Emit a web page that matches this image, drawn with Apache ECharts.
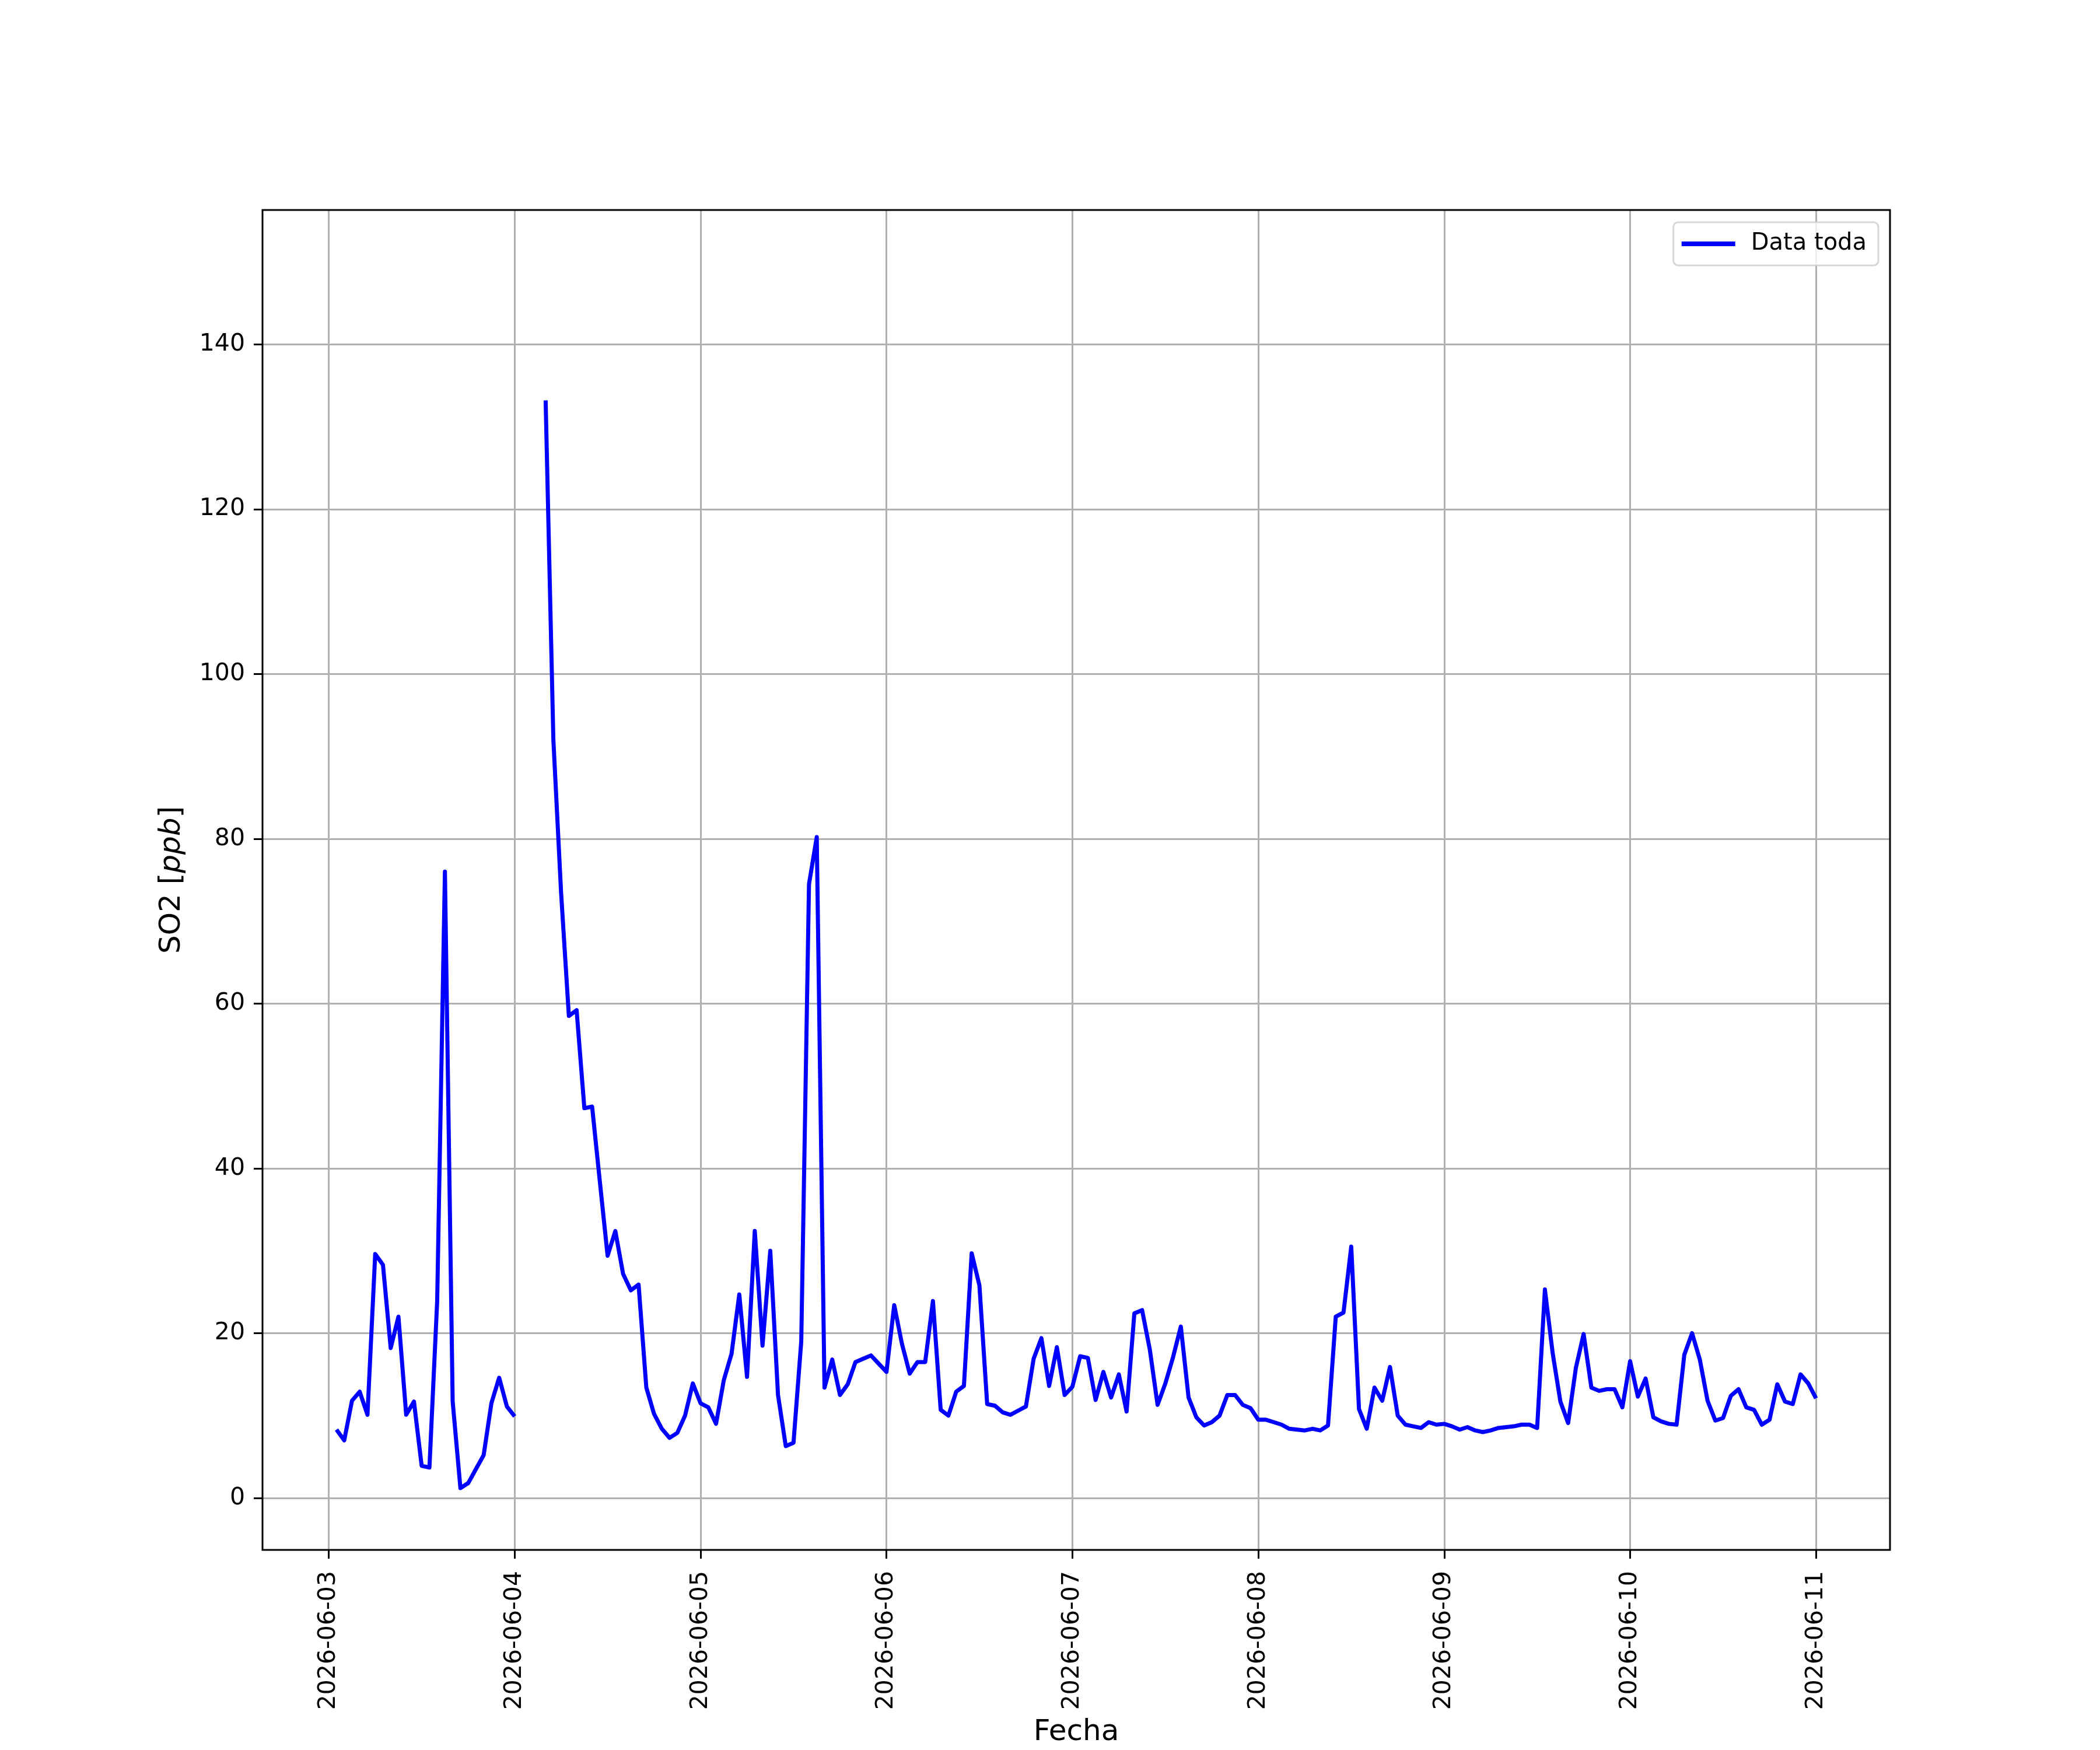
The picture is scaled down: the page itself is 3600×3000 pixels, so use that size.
<!DOCTYPE html>
<html>
<head>
<meta charset="utf-8">
<script src="https://cdn.jsdelivr.net/npm/echarts@6/dist/echarts.min.js"></script>
<style>
html,body{margin:0;padding:0;background:#fff;}
#chart{width:3600px;height:3000px;}
</style>
</head>
<body>
<div id="chart"></div>
<script>
// Hourly SO2 values, each day from 01:00 to next day 00:00
const startTime = '2026-06-03T01:00:00Z';
const stepHours = 1;
const day0603 = [8.3, 7.0, 11.8, 12.9, 10.1, 29.6, 28.3, 18.2, 22.0, 10.1, 11.7, 3.9, 3.7, 23.9, 76.0, 11.7, 1.2, 1.8, 3.5, 5.2, 11.5, 14.6, 11.1, 9.9];
const day0604 = [null, null, null, 133.2, 92.0, 73.4, 58.5, 59.2, 47.3, 47.5, 38.4, 29.4, 32.4, 27.2, 25.2, 25.9, 13.4, 10.2, 8.4, 7.3, 7.9, 10.0, 13.9, 11.5];
const day0605 = [11.0, 9.0, 14.3, 17.5, 24.7, 14.7, 32.4, 18.5, 30.0, 12.5, 6.3, 6.7, 19.0, 74.5, 80.2, 13.4, 16.8, 12.5, 13.8, 16.5, 16.9, 17.3, 16.3, 15.3];
const day0606 = [23.4, 18.7, 15.1, 16.5, 16.5, 23.9, 10.7, 10.0, 12.9, 13.6, 29.7, 25.8, 11.4, 11.2, 10.4, 10.1, 10.6, 11.1, 16.9, 19.4, 13.6, 18.3, 12.5, 13.5];
const day0607 = [17.2, 17.0, 11.9, 15.3, 12.2, 15.0, 10.5, 22.4, 22.8, 18.0, 11.3, 13.9, 17.1, 20.8, 12.2, 9.8, 8.8, 9.2, 10.0, 12.5, 12.5, 11.3, 10.9, 9.5];
const day0608 = [9.5, 9.2, 8.9, 8.4, 8.3, 8.2, 8.4, 8.2, 8.8, 22.0, 22.5, 30.5, 10.8, 8.4, 13.4, 11.8, 15.9, 10.0, 8.9, 8.7, 8.5, 9.2, 8.9, 9.0];
const day0609 = [8.7, 8.3, 8.6, 8.2, 8.0, 8.2, 8.5, 8.6, 8.7, 8.9, 8.9, 8.5, 25.3, 17.6, 11.7, 9.1, 15.8, 19.9, 13.4, 13.0, 13.2, 13.2, 11.0, 16.6];
const day0610 = [12.3, 14.5, 9.8, 9.3, 9.0, 8.9, 17.4, 20.0, 16.8, 11.8, 9.4, 9.7, 12.4, 13.2, 11.0, 10.7, 8.9, 9.5, 13.8, 11.7, 11.4, 15.0, 13.9, 12.1];
const xTickLabels = ['2026-06-03','2026-06-04','2026-06-05','2026-06-06','2026-06-07','2026-06-08','2026-06-09','2026-06-10','2026-06-11'];
const yTicks = [0, 20, 40, 60, 80, 100, 120, 140];
const seriesName = 'Data toda';

const allValues = [].concat(day0603, day0604, day0605, day0606, day0607, day0608, day0609, day0610);
const t0 = Date.parse(startTime);
const H = 3600000;
const seriesData = allValues.map((v, i) => [t0 + i * stepHours * H, v]);
const tFirst = seriesData[0][0];
const tLast = seriesData[seriesData.length - 1][0];
const pad = (tLast - tFirst) * 0.05;
const xTicks = xTickLabels.map(s => Date.parse(s + 'T00:00:00Z'));

const font = 'DejaVu Sans';
const chart = echarts.init(document.getElementById('chart'), null, {renderer: 'canvas'});
chart.setOption({
  backgroundColor: '#ffffff',
  animation: false,
  grid: {
    left: 450, right: 360, top: 360, bottom: 331,
    show: true, borderColor: '#000000', borderWidth: 3, backgroundColor: 'transparent', z: 5
  },
  legend: {
    show: true,
    right: 380, top: 381,
    orient: 'vertical',
    data: [{name: seriesName, icon: 'rect'}],
    itemWidth: 92, itemHeight: 8,
    padding: [17, 20, 17, 14],
    backgroundColor: 'rgba(255,255,255,0.8)',
    borderColor: 'rgba(204,204,204,0.8)', borderWidth: 3, borderRadius: 8,
    itemStyle: {color: '#0000ff', borderWidth: 0},
    textStyle: {fontFamily: font, fontSize: 40, color: '#000', padding: [0, 0, 0, 22]}
  },
  xAxis: {
    type: 'value',
    min: tFirst - pad,
    max: tLast + pad,
    name: 'Fecha',
    nameLocation: 'middle',
    nameGap: 288,
    nameTextStyle: {fontFamily: font, fontSize: 50, color: '#000'},
    axisLine: {show: false, onZero: false},
    axisTick: {show: true, customValues: xTicks, length: 15, lineStyle: {color: '#000', width: 3}},
    axisLabel: {
      customValues: xTicks, rotate: 90, margin: 36, hideOverlap: false,
      fontFamily: font, fontSize: 41, color: '#000',
      formatter: v => new Date(v).toISOString().slice(0, 10)
    },
    splitLine: {show: true, lineStyle: {color: '#b0b0b0', width: 3}}
  },
  yAxis: {
    type: 'value',
    min: -6.3,
    max: 156.3,
    name: 'SO2 [{i|ppb}]',
    nameLocation: 'middle',
    nameRotate: 90,
    nameGap: 130,
    nameTextStyle: {fontFamily: font, fontSize: 50, color: '#000',
      rich: {i: {fontFamily: font, fontStyle: 'italic', fontSize: 50, color: '#000'}}},
    axisLine: {show: false, onZero: false},
    axisTick: {show: true, customValues: yTicks, length: 15, lineStyle: {color: '#000', width: 3}},
    axisLabel: {customValues: yTicks, margin: 30,
      fontFamily: font, fontSize: 41, color: '#000'},
    splitLine: {show: true, lineStyle: {color: '#b0b0b0', width: 3}}
  },
  series: [{
    name: seriesName,
    type: 'line',
    data: seriesData,
    showSymbol: false,
    symbol: 'none',
    connectNulls: false,
    lineStyle: {color: '#0000ff', width: 7, join: 'round'},
    itemStyle: {color: '#0000ff'},
    z: 3
  }]
});
</script>
</body>
</html>
